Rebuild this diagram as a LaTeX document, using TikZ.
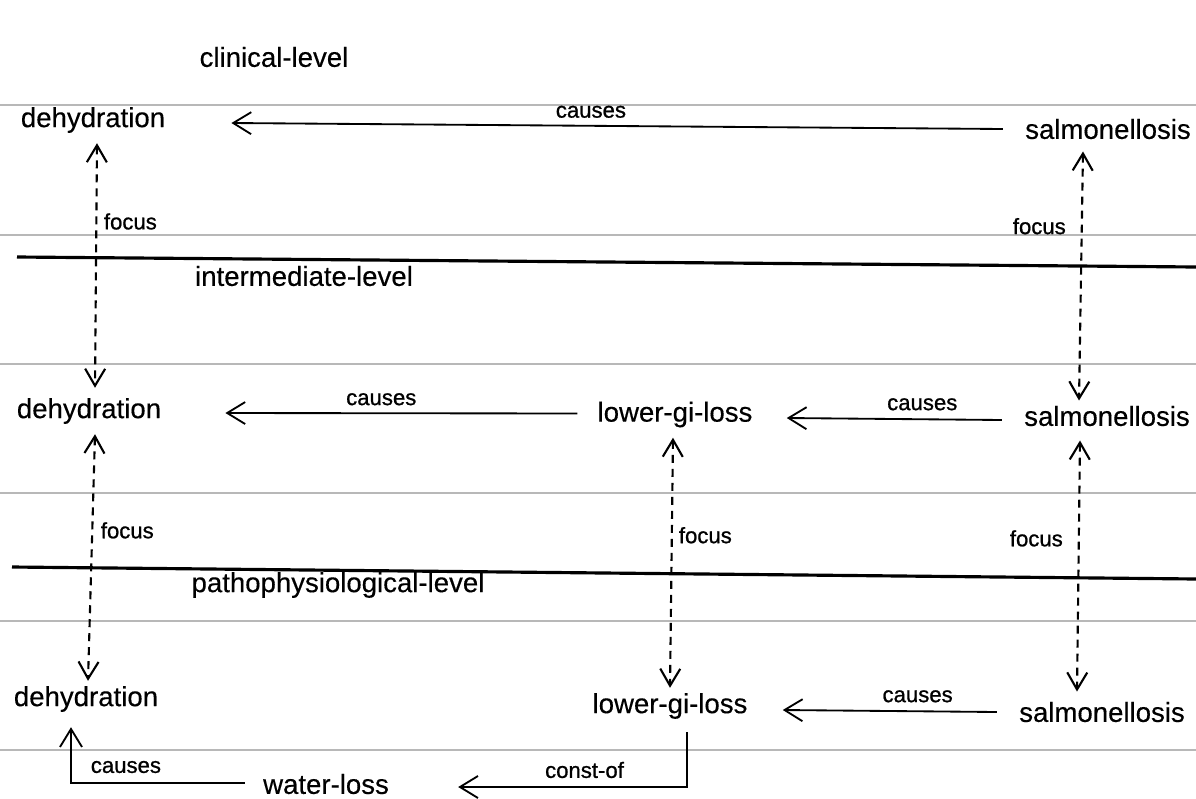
\documentclass[tikz,border=0pt]{standalone}
\usepackage{fontspec}
\setmainfont{Liberation Sans}[FakeBold=0.35]
\newfontfamily\labelfont{Liberation Sans}[FakeBold=0.9]
\usetikzlibrary{arrows.meta,calc}

\begin{document}
\begin{tikzpicture}[
  x=0.02cm, y=-0.02cm,
  concept/.style={inner sep=0pt, font=\fontsize{15.7}{18}\selectfont},
  levelname/.style={inner sep=0pt, font=\fontsize{15.7}{18}\selectfont},
  lbl/.style={inner sep=0pt, font=\labelfont\fontsize{12.6}{15}\selectfont},
  tip/.style={-{Straight Barb[length=0.36cm,width=0.44cm]}},
  cause/.style={tip, line width=1.05pt},
  focusarr/.style={{Straight Barb[length=0.34cm,width=0.4cm]}-{Straight Barb[length=0.34cm,width=0.4cm]},
                   line width=1.2pt, dash pattern=on 0.16cm off 0.12cm},
  rule/.style={black!28, line width=0.6pt},
  levelline/.style={black, line width=1.8pt}
]
\useasboundingbox (0,0) rectangle (1196,798);

% thin ruling lines
\foreach \yy in {105,235,364,493,621,750}
  \draw[rule] (0,\yy) -- (1196,\yy);

% level separators
\draw[levelline] (17,257) -- (1196,267);
\draw[levelline] (12,567) -- (1196,579);

% level names
\node[levelname] (lvclin)  at (274,57)  {clinical-level};
\node[levelname] (lvinter) at (304,276) {intermediate-level};
\node[levelname] (lvpatho) at (338,585) {pathophysiological-level};

% clinical level
\node[concept] (d1) at (93,120)  {dehydration};
\node[concept] (s1) at (1108,129) {salmonellosis};

% intermediate level
\node[concept] (d2) at (89,411)   {dehydration};
\node[concept] (l2) at (675,414.5) {lower-gi-loss};
\node[concept] (s2) at (1107,416) {salmonellosis};

% pathophysiological level
\node[concept] (d3) at (86,699)   {dehydration};
\node[concept] (l3) at (670,706)  {lower-gi-loss};
\node[concept] (s3) at (1102,712) {salmonellosis};
\node[concept] (w)  at (326,784)  {water-loss};

% causal links
\draw[cause] ($(s1.west)+(-22,0)$) -- ($(d1.east)+(66,3)$)
  node[lbl, pos=0.534, above=0.14cm] (c1) {causes};
\draw[cause] ($(l2.west)+(-20,-1)$) -- ($(d2.east)+(64,2)$)
  node[lbl, pos=0.557, above=0.14cm] (c2) {causes};
\draw[cause] ($(s2.west)+(-22,4)$) -- ($(l2.east)+(34,3.5)$)
  node[lbl, pos=0.37, above=0.16cm] (c3) {causes};
\draw[cause] ($(s3.west)+(-22,0)$) -- ($(l3.east)+(35,4)$)
  node[lbl, pos=0.37, above=0.16cm] (c4) {causes};
\draw[cause] ($(l3.south)+(17,13)$) |- ($(w.east)+(69,3)$)
  node[lbl, pos=0.724, above=0.16cm] (c5) {const-of};
\draw[cause] ($(w.west)+(-18,-1)$) -| ($(d3.south)+(-15,15)$)
  node[lbl, pos=0.342, above=0.18cm] (c6) {causes};

% focus links between levels
\draw[focusarr] ($(d1.south)+(4,10)$) -- ($(d2.north)+(6,-10)$)
  node[lbl, pos=0.32, right=0.13cm] (f1) {focus};
\draw[focusarr] ($(d2.south)+(6,10)$) -- ($(d3.north)+(2,-5)$)
  node[lbl, pos=0.39, right=0.15cm] (f2) {focus};
\draw[focusarr] ($(l2.south)+(-2,10)$) -- ($(l3.north)+(0,-5)$)
  node[lbl, pos=0.39, right=0.12cm] (f3) {focus};
\draw[focusarr] ($(s1.south)+(-25,12)$) -- ($(s2.north)+(-28,-5)$)
  node[lbl, pos=0.30, left=0.3cm] (f4) {focus};
\draw[focusarr] ($(s2.south)+(-27,14)$) -- ($(s3.north)+(-25,-10)$)
  node[lbl, pos=0.39, left=0.3cm] (f5) {focus};
\end{tikzpicture}
\end{document}
